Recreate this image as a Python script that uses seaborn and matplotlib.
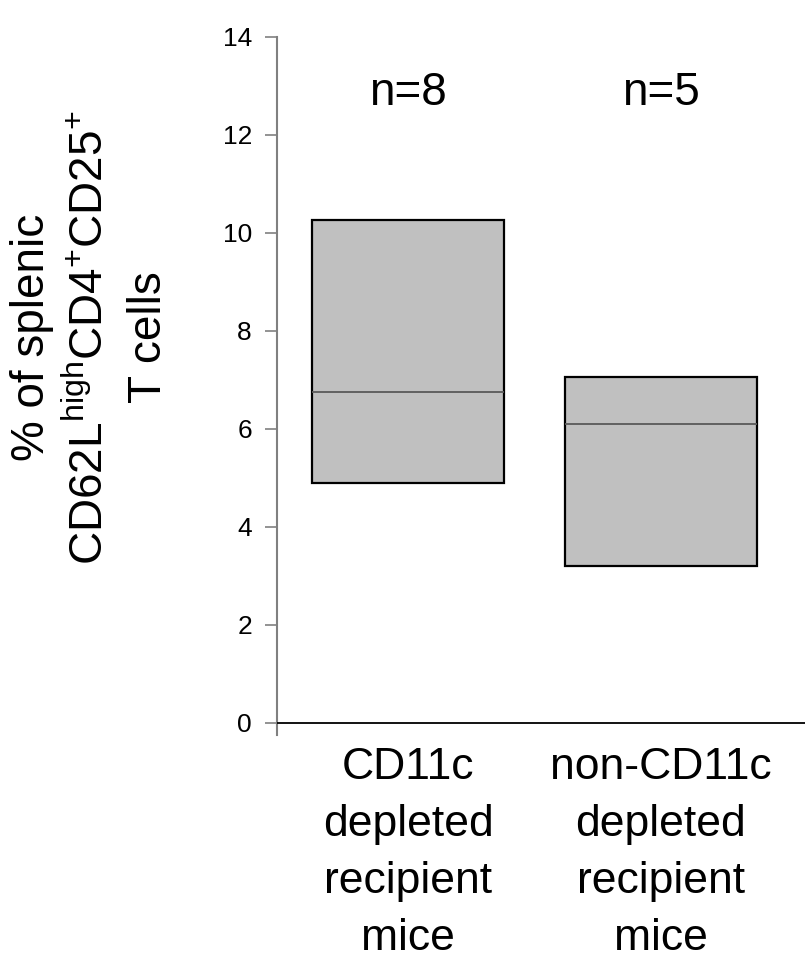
import pandas as pd
import seaborn as sns
import matplotlib.pyplot as plt

# values
groups = ["CD11c\ndepleted\nrecipient\nmice", "non-CD11c\ndepleted\nrecipient\nmice"]
q1 = [4.9, 3.2]
median = [6.75, 6.1]
q3 = [10.25, 7.05]
n_labels = ["n=8", "n=5"]
y_ticks = [0, 2, 4, 6, 8, 10, 12, 14]

# long-form table: repeated quartiles so whiskers collapse onto the box edges
rows = []
for g, lo, med, hi in zip(groups, q1, median, q3):
    for v in (lo, lo, med, hi, hi):
        rows.append({"group": g, "value": v})
df = pd.DataFrame(rows)

sns.set_style("white")
plt.rcParams["font.family"] = ["Liberation Sans", "DejaVu Sans"]
plt.rcParams["mathtext.fontset"] = "custom"
plt.rcParams["mathtext.rm"] = "Liberation Sans"
plt.rcParams["text.color"] = "black"
plt.rcParams["axes.labelcolor"] = "black"
plt.rcParams["ytick.labelcolor"] = "black"
plt.rcParams["xtick.labelcolor"] = "black"
plt.rcParams["ytick.labelsize"] = 19
plt.rcParams["xtick.labelsize"] = 32

fig = plt.figure(figsize=(8.05, 9.67), dpi=100)
ax = fig.add_axes([0.344, 0.24, 0.656, 0.722])

sns.boxplot(data=df, x="group", y="value", ax=ax, width=0.76,
            color="#c0c0c0", saturation=1, showcaps=False, showfliers=False,
            linecolor="black", linewidth=1.6,
            medianprops={"color": "#5a5a5a", "linewidth": 1.3},
            whiskerprops={"linewidth": 0})

# x axis line drawn at zero, left spine runs a little below it
ax.axhline(0, color="black", linewidth=1.3, zorder=3)
for s in ("top", "right", "bottom"):
    ax.spines[s].set_visible(False)
ax.spines["left"].set_color("#808080")
ax.spines["left"].set_linewidth(1.5)

for i, lab in enumerate(n_labels):
    ax.text(i, 12.85, lab, ha="center", va="center", fontsize=33)

ax.set_ylim(-0.25, 14)
ax.set_xlim(-0.52, 1.57)
ax.set_yticks(y_ticks)
ax.set_yticklabels([str(t) for t in y_ticks])
ax.set_xticks(range(len(groups)))
ax.set_xticklabels(groups, linespacing=1.5)
ax.tick_params(axis="y", direction="out", length=9, width=1.2, color="#808080",
               pad=9, left=True, labelsize=19)
ax.tick_params(axis="x", length=0, pad=9, labelsize=32)
for lab in ax.get_yticklabels():
    lab.set_fontsize(19)
for lab in ax.get_xticklabels():
    lab.set_fontsize(32)
    lab.set_linespacing(1.5)

ax.set_xlabel("")
ax.set_ylabel("")
fig.text(0.112, 0.651,
         "% of splenic\nCD62L$^{\\mathregular{high}}$CD4$^{\\mathregular{+}}$CD25$^{\\mathregular{+}}$\nT cells",
         rotation=90, ha="center", va="center", fontsize=33, linespacing=1.4,
         multialignment="center")

plt.savefig("out.png", dpi=100)
